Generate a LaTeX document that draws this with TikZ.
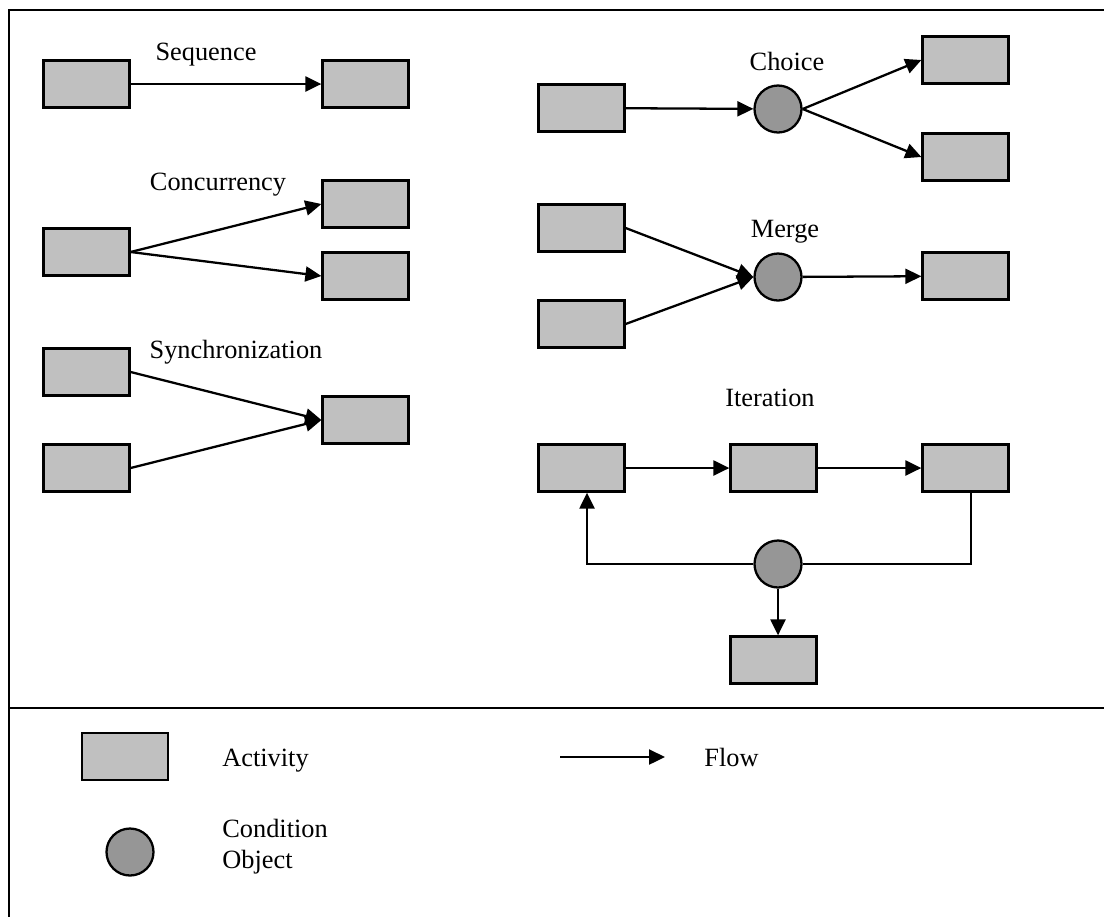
\documentclass[tikz,border=0pt]{standalone}
\usepackage{fontspec}
\setmainfont{Liberation Serif}
\usepackage{tikz}
\usetikzlibrary{positioning,arrows.meta}
\definecolor{actgray}{HTML}{C0C0C0}
\definecolor{condgray}{HTML}{969696}
\tikzset{
	x=0.02cm, y=-0.02cm, % one unit is one pixel of the page
	>={Triangle[length=0.32cm,width=0.3cm]}, % filled arrow heads
	every node/.style={font=\fontsize{15}{17.6}\selectfont},
	flow/.style={->, line width=1.3pt}, % sets the look of the connectors
}

\begin{document}
\begin{tikzpicture}[
	actnode/.style={rectangle, draw=black, fill=actgray, line width=1.3pt, minimum width=1.72cm, minimum height=0.94cm, inner sep=0pt},
	condnode/.style={circle, draw=black, fill=condgray, line width=1.3pt, minimum size=0.94cm, inner sep=0pt},
	lbl/.style={anchor=base, inner sep=0pt},
	]
	\useasboundingbox (0,0) rectangle (1104,917);
	%Frame
	\draw[line width=1.4pt] (1104,10) -| (9,917);
	\draw[line width=1.4pt] (9,708) -- (1104,708);

	%Nodes
	% sequence
	\node[actnode] (seqa) at (86.5,84) {};
	\node[actnode] (seqb) at (365.5,84) {};
	\node[lbl] (seqlbl) at (206,60) {Sequence};
	% concurrency
	\node[actnode] (cona) at (86.5,252) {};
	\node[actnode] (conb) at (365.5,204) {};
	\node[actnode] (conc) at (365.5,276) {};
	\node[lbl] (conlbl) at (218,190) {Concurrency};
	% synchronization
	\node[actnode] (syna) at (86.5,372) {};
	\node[actnode] (synb) at (86.5,468) {};
	\node[actnode] (sync) at (365.5,420) {};
	\node[lbl] (synlbl) at (236,358) {Synchronization};
	% choice
	\node[actnode] (choa) at (581.5,108) {};
	\node[condnode] (chocond) at (778,109) {};
	\node[actnode] (chob) at (965.5,60) {};
	\node[actnode] (choc) at (965.5,157) {};
	\node[lbl] (cholbl) at (787,70) {Choice};
	% merge
	\node[actnode] (mera) at (581.5,228) {};
	\node[actnode] (merb) at (581.5,324) {};
	\node[condnode] (mercond) at (778,277) {};
	\node[actnode] (merc) at (965.5,276) {};
	\node[lbl] (merlbl) at (785,237) {Merge};
	% iteration
	\node[actnode] (itea) at (581.5,468) {};
	\node[actnode] (iteb) at (773.5,468) {};
	\node[actnode] (itec) at (965.5,468) {};
	\node[condnode] (itecond) at (778,564) {};
	\node[actnode] (iteexit) at (773.5,660) {};
	\node[lbl] (itelbl) at (770,406) {Iteration};
	% legend
	\node[actnode] (legact) at (125,756.5) {};
	\node[lbl, anchor=base west] (legacttxt) at (222,766) {Activity};
	\coordinate (legfla) at (560,757);
	\coordinate (legflb) at (665,757);
	\node[lbl, anchor=base west] (legfltxt) at (704,766) {Flow};
	\node[condnode] (legcond) at (130,852) {};
	\node[lbl, anchor=base west] (legcondtxt) at (222,837) {Condition};
	\node[lbl, anchor=base west] (legobjtxt) at (222,868) {Object};

	%Lines
	\draw[flow] (seqa) -- (seqb);
	\draw[flow] (cona.east) -- (conb.west);
	\draw[flow] (cona.east) -- (conc.west);
	\draw[flow] (syna.east) -- (sync.west);
	\draw[flow] (synb.east) -- (sync.west);
	\draw[flow] (choa) -- (chocond);
	\draw[flow] (chocond.east) -- (chob.west);
	\draw[flow] (chocond.east) -- (choc.west);
	\draw[flow] (mera.east) -- (mercond.west);
	\draw[flow] (merb.east) -- (mercond.west);
	\draw[flow] (mercond) -- (merc);
	\draw[flow] (itea) -- (iteb);
	\draw[flow] (iteb) -- (itec);
	\draw[line width=1.3pt] ([xshift=0.11cm]itec.south) |- (itecond.east);
	\draw[flow] (itecond.west) -| ([xshift=0.11cm]itea.south);
	\draw[flow] (itecond.south) -- (itecond.south |- iteexit.north);
	\draw[flow] (legfla) -- (legflb);
\end{tikzpicture}
\end{document}
